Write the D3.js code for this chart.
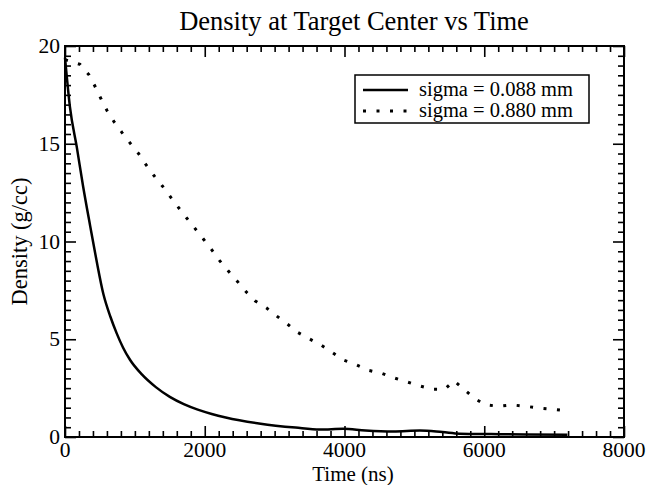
<!DOCTYPE html>
<html><head><meta charset="utf-8">
<script src="https://cdn.jsdelivr.net/npm/d3@7/dist/d3.min.js"></script>
<style>body{margin:0;background:#fff}svg{display:block}text{font-family:"Liberation Serif","Times New Roman",serif;fill:#000}</style>
</head><body><svg id="c" width="648" height="485"></svg>
<script>
const solidTime = [0, 70, 170, 260, 360, 450, 550, 650, 740, 830, 930, 1100, 1300, 1500, 1700, 1900, 2100, 2300, 2800, 3300, 3650, 3980, 4300, 4700, 5080, 5400, 5650, 6100, 6600, 7190];
const solidDensity = [19.4, 16.9, 14.8, 12.8, 10.8, 9.05, 7.3, 6.15, 5.3, 4.58, 3.95, 3.2, 2.55, 2.05, 1.68, 1.4, 1.18, 1.0, 0.68, 0.48, 0.38, 0.42, 0.33, 0.28, 0.33, 0.25, 0.17, 0.15, 0.13, 0.12];
const dotTime = [0, 215, 343, 429, 515, 601, 701, 816, 935, 1054, 1164, 1278, 1393, 1507, 1622, 1741, 1860, 1980, 2099, 2213, 2338, 2462, 2586, 2719, 2881, 3029, 3182, 3330, 3502, 3669, 3830, 3983, 4165, 4341, 4522, 4704, 4885, 5071, 5252, 5434, 5567, 5710, 5858, 6015, 6206, 6402, 6593, 6784, 6974, 7166];
const dotDensity = [19.3, 19.06, 18.53, 17.94, 17.3, 16.7, 16.13, 15.57, 15.02, 14.49, 13.9, 13.35, 12.84, 12.29, 11.75, 11.2, 10.67, 10.13, 9.58, 9.02, 8.49, 7.98, 7.45, 6.97, 6.61, 6.19, 5.78, 5.35, 5.01, 4.69, 4.31, 3.94, 3.70, 3.41, 3.27, 3.03, 2.83, 2.62, 2.44, 2.44, 2.88, 2.44, 1.98, 1.65, 1.57, 1.64, 1.57, 1.48, 1.42, 1.35];
const xTicks = [0, 2000, 4000, 6000, 8000];
const yTicks = [0, 5, 10, 15, 20];
const seriesLabels = ["sigma = 0.088 mm", "sigma = 0.880 mm"];
const titleText = "Density at Target Center vs Time";
const xLabel = "Time (ns)";
const yLabel = "Density (g/cc)";

const L = 65, R = 624, T = 46, B = 437;
const svg = d3.select("#c");
const x = d3.scaleLinear().domain([0, 8000]).range([L, R]);
const y = d3.scaleLinear().domain([0, 20]).range([B, T]);
const xMinor = d3.range(0, 8001, 200).filter(v => v % 2000 !== 0);
const yMinor = d3.range(0, 20.01, 0.5).filter(v => v % 5 !== 0);

function tickLines(axisGen, g) { g.call(axisGen); g.select(".domain").remove(); g.selectAll("line").attr("stroke", "#000").attr("stroke-width", 1.6); }
const fmt = d3.format("d");
let g;
g = svg.append("g").attr("transform", `translate(0,${B})`);
tickLines(d3.axisTop(x).tickValues(xTicks).tickSize(11).tickFormat(""), g);
g = svg.append("g").attr("transform", `translate(0,${B})`);
tickLines(d3.axisTop(x).tickValues(xMinor).tickSize(6).tickFormat(""), g);
g = svg.append("g").attr("transform", `translate(0,${T})`);
tickLines(d3.axisBottom(x).tickValues(xTicks).tickSize(11).tickFormat(""), g);
g = svg.append("g").attr("transform", `translate(0,${T})`);
tickLines(d3.axisBottom(x).tickValues(xMinor).tickSize(6).tickFormat(""), g);
g = svg.append("g").attr("transform", `translate(${L},0)`);
tickLines(d3.axisRight(y).tickValues(yTicks).tickSize(11).tickFormat(""), g);
g = svg.append("g").attr("transform", `translate(${L},0)`);
tickLines(d3.axisRight(y).tickValues(yMinor).tickSize(6).tickFormat(""), g);
g = svg.append("g").attr("transform", `translate(${R},0)`);
tickLines(d3.axisLeft(y).tickValues(yTicks).tickSize(11).tickFormat(""), g);
g = svg.append("g").attr("transform", `translate(${R},0)`);
tickLines(d3.axisLeft(y).tickValues(yMinor).tickSize(6).tickFormat(""), g);

svg.append("rect").attr("x", L).attr("y", T).attr("width", R - L).attr("height", B - T)
  .attr("fill", "none").attr("stroke", "#000").attr("stroke-width", 2);

svg.append("g").selectAll("text").data(xTicks).join("text")
  .attr("x", d => x(d)).attr("y", B + 20).attr("text-anchor", "middle")
  .attr("font-size", 21.5).text(d => fmt(d));
svg.append("g").selectAll("text").data(yTicks).join("text")
  .attr("x", L - 5).attr("y", d => y(d) + 7).attr("text-anchor", "end")
  .attr("font-size", 21.5).text(d => fmt(d));

svg.append("text").attr("x", 354).attr("y", 30).attr("text-anchor", "middle").attr("font-size", 26.5).text(titleText);
svg.append("text").attr("x", 353).attr("y", 481).attr("text-anchor", "middle").attr("font-size", 21).text(xLabel);
svg.append("text").attr("transform", `translate(27,${(T + B) / 2}) rotate(-90)`).attr("text-anchor", "middle").attr("font-size", 22.5).text(yLabel);

const solid = solidTime.map((t, i) => [t, solidDensity[i]]);
const dotted = dotTime.map((t, i) => [t, dotDensity[i]]);
const smooth = d3.line().x(d => x(d[0])).y(d => y(d[1])).curve(d3.curveMonotoneX);
const line = d3.line().x(d => x(d[0])).y(d => y(d[1]));
svg.append("path").attr("d", smooth(solid)).attr("fill", "none").attr("stroke", "#000").attr("stroke-width", 2.5).attr("stroke-linejoin", "round");
svg.append("path").attr("d", line(dotted)).attr("fill", "none").attr("stroke", "#000").attr("stroke-width", 3)
  .attr("stroke-dasharray", "3,10.5");

const lg = svg.append("g");
lg.append("rect").attr("x", 355).attr("y", 75).attr("width", 234).attr("height", 48)
  .attr("fill", "#fff").attr("stroke", "#000").attr("stroke-width", 1.5);
const rows = [{y: 90, dash: null, w: 2.5}, {y: 111, dash: "3,10.5", w: 3}];
rows.forEach((r, i) => {
  lg.append("line").attr("x1", 363).attr("x2", 408).attr("y1", r.y).attr("y2", r.y)
    .attr("stroke", "#000").attr("stroke-width", r.w).attr("stroke-dasharray", r.dash);
  lg.append("text").attr("x", 419).attr("y", r.y + 6).attr("font-size", 20.5).text(seriesLabels[i]);
});
</script></body></html>
